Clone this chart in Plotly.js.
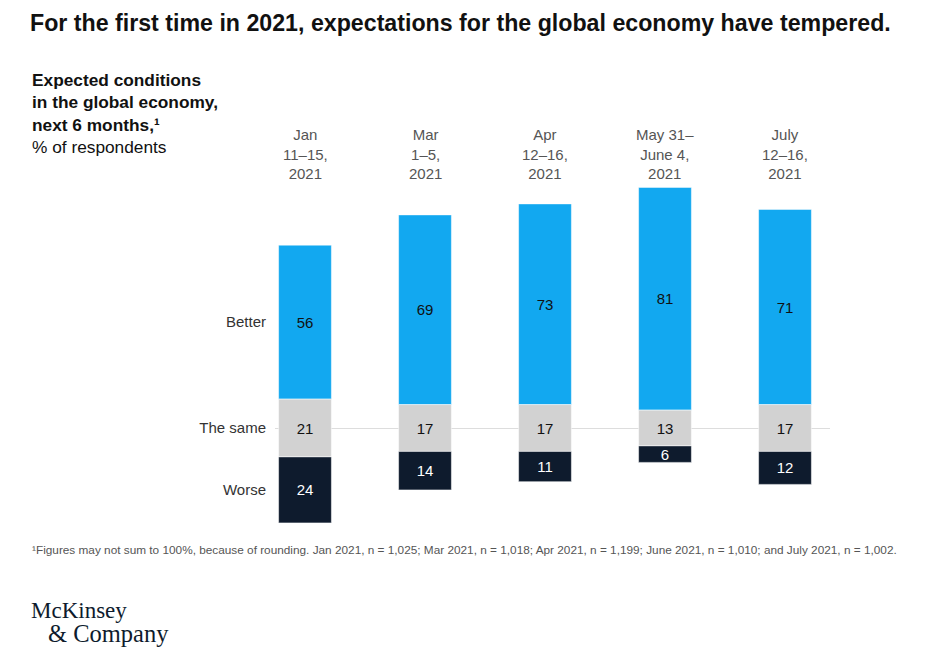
<!DOCTYPE html>
<html>
<head>
<meta charset="utf-8">
<script src="https://cdn.plot.ly/plotly-3.0.1.min.js"></script>
<style>body{margin:0;background:#fff}#chart{width:936px;height:656px}</style>
</head>
<body>
<div id="chart"></div>
<script>
const categories = ["Jan<br>11–15,<br>2021", "Mar<br>1–5,<br>2021", "Apr<br>12–16,<br>2021", "May 31–<br>June 4,<br>2021", "July<br>12–16,<br>2021"];
const better = [56, 69, 73, 81, 71];
const same = [21, 17, 17, 13, 17];
const worse = [24, 14, 11, 6, 12];
const rowLabels = ["Better", "The same", "Worse"];

const xs = categories.map((c, i) => i);
const W = 936, H = 656;
const M = {l: 275, r: 106, t: 120, b: 118};
const PW = W - M.l - M.r, PH = H - M.t - M.b;
const px = v => (v - M.l) / PW;
const py = v => (H - M.b - v) / PH;

const font = "Liberation Sans, Arial, sans-serif";

function barTrace(vals, base, color, textColor, name) {
  return {
    type: 'bar', x: xs, y: vals, base: base,
    marker: {color: color, line: {color: '#fff', width: 0.5}},
    text: vals.map(String), textposition: 'inside', insidetextanchor: 'middle',
    textangle: 0, constraintext: 'none',
    textfont: {color: textColor, size: 15, family: font}, hoverinfo: 'none', name: name
  };
}

const traces = [
  barTrace(better, same.map(s => s / 2), '#12A8F0', '#111', 'Better'),
  barTrace(same, same.map(s => -s / 2), '#D2D2D2', '#111', 'The same'),
  barTrace(worse, same.map((s, i) => -s / 2 - worse[i]), '#0E1B2D', '#fff', 'Worse')
];

const tickvals = [same[0] / 2 + better[0] / 2, 0, -same[0] / 2 - worse[0] / 2];

const annotations = categories.map((c, i) => ({
  xref: 'x', yref: 'paper', x: i, y: py(154), text: c, showarrow: false,
  xanchor: 'center', yanchor: 'middle', align: 'center',
  font: {family: font, size: 15, color: '#555'}
}));

annotations.push({
  xref: 'paper', yref: 'paper', x: px(30), y: py(68), xanchor: 'left', yanchor: 'top', align: 'left',
  showarrow: false,
  text: '<b>Expected conditions<br>in the global economy,<br>next 6 months,¹</b><br>% of respondents',
  font: {family: font, size: 17.3, color: '#111'}
});
annotations.push({
  xref: 'paper', yref: 'paper', x: px(30), y: py(550), xanchor: 'left', yanchor: 'middle', align: 'left',
  showarrow: false,
  text: '¹Figures may not sum to 100%, because of rounding. Jan 2021, n = 1,025; Mar 2021, n = 1,018; Apr 2021, n = 1,199; June 2021, n = 1,010; and July 2021, n = 1,002.',
  font: {family: font, size: 11.8, color: '#555'}
});
annotations.push({
  xref: 'paper', yref: 'paper', x: px(29), y: py(610), xanchor: 'left', yanchor: 'middle', align: 'left',
  showarrow: false, text: 'McKinsey',
  font: {family: 'Liberation Serif, DejaVu Serif, serif', size: 23, color: '#0E1B2D'}
});
annotations.push({
  xref: 'paper', yref: 'paper', x: px(46), y: py(633), xanchor: 'left', yanchor: 'middle', align: 'left',
  showarrow: false, text: '&amp; Company',
  font: {family: 'Liberation Serif, DejaVu Serif, serif', size: 24.5, color: '#0E1B2D'}
});

const layout = {
  width: W, height: H,
  margin: M,
  paper_bgcolor: '#fff', plot_bgcolor: '#fff',
  showlegend: false,
  barmode: 'overlay',
  bargap: 0.56,
  title: {
    text: '<b>For the first time in 2021, expectations for the global economy have tempered.</b>',
    x: 30 / W, xanchor: 'left', xref: 'container', y: 1 - 23 / H, yanchor: 'middle', yref: 'container',
    font: {family: font, size: 23.2, color: '#111'}
  },
  xaxis: {range: [-0.25, 4.375], showticklabels: false, showgrid: false, zeroline: false, showline: false, ticks: ''},
  yaxis: {
    range: [-40, 112], showgrid: false, zeroline: true, zerolinecolor: '#DDDDDD', zerolinewidth: 1,
    showline: false, ticks: '', tickvals: tickvals, ticktext: rowLabels, ticklabelstandoff: 8,
    tickfont: {family: font, size: 15, color: '#333'}
  },
  annotations: annotations
};

Plotly.newPlot('chart', traces, layout, {displayModeBar: false, staticPlot: true});
</script>
</body>
</html>
